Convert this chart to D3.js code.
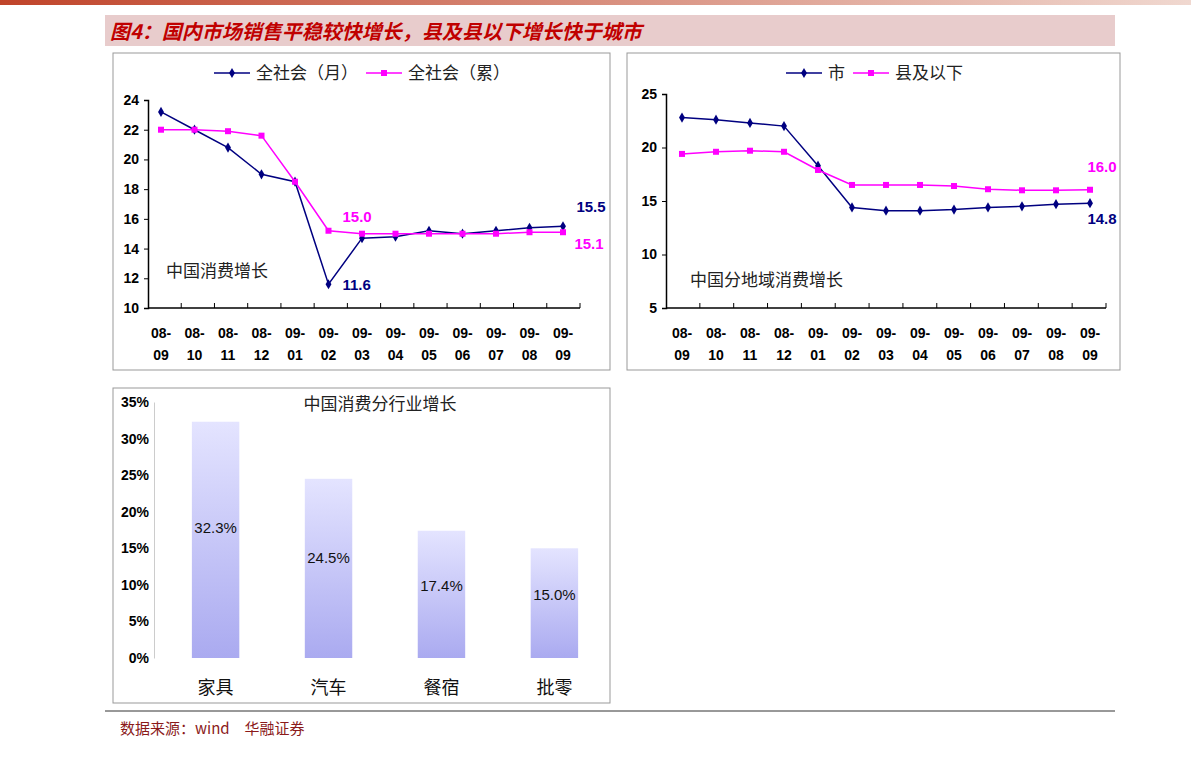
<!DOCTYPE html><html><head><meta charset="utf-8"><script src="https://cdn.jsdelivr.net/npm/d3@7"></script>
<style>body{margin:0;background:#fff}text{font-family:"Liberation Sans",Arial,sans-serif}.cjk{font-family:"Noto Sans CJK SC",sans-serif}</style></head><body>
<svg id="s" width="1191" height="758"></svg>
<script>
const months=["08-09","08-10","08-11","08-12","09-01","09-02","09-03","09-04","09-05","09-06","09-07","09-08","09-09"];
const natMonthly=[23.2,22.0,20.8,19.0,18.5,11.6,14.7,14.8,15.2,15.0,15.2,15.4,15.5];
const natCum=[22.0,22.0,21.9,21.6,18.5,15.2,15.0,15.0,15.0,15.0,15.0,15.1,15.1];
const city=[22.8,22.6,22.3,22.0,18.3,14.4,14.1,14.1,14.2,14.4,14.5,14.7,14.8];
const county=[19.4,19.6,19.7,19.6,17.9,16.5,16.5,16.5,16.4,16.1,16.0,16.0,16.05];
const sectors=["家具","汽车","餐宿","批零"];
const sectorVals=[32.3,24.5,17.4,15.0];
const svg=d3.select("#s");
const NAVY="#000080",MAG="#ff00ff";
const defs=svg.append("defs");
const tg=defs.append("linearGradient").attr("id","tg");
tg.append("stop").attr("offset","0").attr("stop-color","#c0442a");tg.append("stop").attr("offset","1").attr("stop-color","#f0d8d0");
svg.append("rect").attr("x",0).attr("y",0).attr("width",1191).attr("height",5).attr("fill","url(#tg)");
svg.append("rect").attr("x",105).attr("y",15).attr("width",1010).attr("height",31).attr("fill","#e8cccc");
svg.append("text").attr("class","cjk").attr("x",110).attr("y",39).attr("font-size",20).attr("font-style","italic").attr("font-weight","bold").attr("fill","#c00000").text("图4：国内市场销售平稳较快增长，县及县以下增长快于城市");
function panel(x,y,w,h){svg.append("rect").attr("x",x).attr("y",y).attr("width",w).attr("height",h).attr("fill","#fff").attr("stroke","#999");}
panel(113,53,497,317);panel(627,53,493,317);panel(113,388,497,315);
function lineChart(o){
 const x=d3.scalePoint().domain(months).range([o.x0,o.x1]);
 const xb=d3.scaleBand().domain(months).range([o.ax0,o.ax1]);
 const y=d3.scaleLinear().domain(o.dom).range([o.y1,o.y0]);
 const g=svg.append("g");
 g.append("g").attr("transform",`translate(${o.ax0},0)`).call(d3.axisLeft(y).tickValues(o.ticks).tickSize(4).tickFormat(d3.format("d")))
  .call(a=>{a.select(".domain").attr("stroke","#000").attr("stroke-width",1.5);a.selectAll("text").attr("font-size",14).attr("font-weight","bold").attr("dx",-2);});
 const xa=g.append("g").attr("transform",`translate(0,${o.y1})`);
 xa.append("line").attr("x1",o.ax0).attr("x2",o.ax1).attr("stroke","#000").attr("stroke-width",1.5);
 months.forEach((m,i)=>{const xx=o.ax0+xb.bandwidth()*(i+1);xa.append("line").attr("x1",xx).attr("x2",xx).attr("y1",0).attr("y2",-5).attr("stroke","#000");});
 months.forEach(m=>{const p=m.split("-");xa.append("text").attr("x",x(m)).attr("y",30).attr("text-anchor","middle").attr("font-size",14).attr("font-weight","bold").text(p[0]+"-");xa.append("text").attr("x",x(m)).attr("y",52).attr("text-anchor","middle").attr("font-size",14).attr("font-weight","bold").text(p[1]);});
 o.series.forEach(s=>{
  g.append("path").datum(s.v).attr("fill","none").attr("stroke",s.c).attr("stroke-width",1.5).attr("d",d3.line().x((d,i)=>x(months[i])).y(d=>y(d)));
  s.v.forEach((d,i)=>{if(s.sq)g.append("rect").attr("x",x(months[i])-3).attr("y",y(d)-3).attr("width",6).attr("height",6).attr("fill",s.c);else g.append("path").attr("d",d3.symbol(d3.symbolDiamond,30)()).attr("transform",`translate(${x(months[i])},${y(d)})`).attr("fill",s.c);});
 });
 o.labels.forEach(l=>g.append("text").attr("x",l.dx+x(months[l.i])).attr("y",y(l.v)+l.dy).attr("fill",l.c).attr("font-size",15).attr("font-weight","bold").attr("text-anchor",l.a||"start").text(l.t));
 g.append("text").attr("class","cjk").attr("x",o.capx).attr("y",o.capy).attr("font-size",17).attr("fill","#222").text(o.cap);
 let lx=o.legx;
 o.series.forEach(s=>{g.append("line").attr("x1",lx).attr("x2",lx+36).attr("y1",73).attr("y2",73).attr("stroke",s.c).attr("stroke-width",1.5);
  if(s.sq)g.append("rect").attr("x",lx+15).attr("y",70).attr("width",6).attr("height",6).attr("fill",s.c);else g.append("path").attr("d",d3.symbol(d3.symbolDiamond,30)()).attr("transform",`translate(${lx+18},73)`).attr("fill",s.c);
  const t=g.append("text").attr("class","cjk").attr("x",lx+42).attr("y",79).attr("font-size",17).attr("fill","#222").text(s.n);lx+=42+t.node().getComputedTextLength()+8;});
}
lineChart({x0:161,x1:563,ax0:148,ax1:580,y0:100,y1:308,dom:[10,24],ticks:d3.range(10,25,2),legx:214,capx:166,capy:277,cap:"中国消费增长",
 series:[{n:"全社会（月）",v:natMonthly,c:NAVY},{n:"全社会（累）",v:natCum,c:MAG,sq:true}],
 labels:[{i:5,v:11.6,t:"11.6",c:NAVY,dx:14,dy:6},{i:5,v:15.2,t:"15.0",c:MAG,dx:14,dy:-9},{i:12,v:15.5,t:"15.5",c:NAVY,dx:28,dy:-14,a:"middle"},{i:12,v:15.1,t:"15.1",c:MAG,dx:26,dy:17,a:"middle"}]});
lineChart({x0:682,x1:1090,ax0:666,ax1:1106,y0:94,y1:308,dom:[5,25],ticks:[5,10,15,20,25],legx:786,capx:690,capy:286,cap:"中国分地域消费增长",
 series:[{n:"市",v:city,c:NAVY},{n:"县及以下",v:county,c:MAG,sq:true}],
 labels:[{i:12,v:16.05,t:"16.0",c:MAG,dx:12,dy:-18,a:"middle"},{i:12,v:14.8,t:"14.8",c:NAVY,dx:12,dy:21,a:"middle"}]});
const bx=d3.scaleBand().domain(sectors).range([158,612]).paddingInner(0.58).paddingOuter(0.3);
const by=d3.scaleLinear().domain([0,35]).range([658,402]);
const bg=defs.append("linearGradient").attr("id","bg").attr("x1",0).attr("x2",0).attr("y1",0).attr("y2",1);
bg.append("stop").attr("offset","0").attr("stop-color","#e4e4ff");bg.append("stop").attr("offset","1").attr("stop-color","#aaaaf0");
const g3=svg.append("g");
g3.append("g").attr("transform","translate(154,0)").call(d3.axisLeft(by).tickValues(d3.range(0,36,5)).tickSize(0).tickFormat(d=>d+"%"))
 .call(a=>{a.select(".domain").attr("stroke","#ccc");a.selectAll("text").attr("font-size",14).attr("font-weight","bold").attr("dx",-2);});
g3.selectAll(".b").data(sectorVals).join("rect").attr("x",(d,i)=>bx(sectors[i])).attr("width",bx.bandwidth()).attr("y",d=>by(d)).attr("height",d=>658-by(d)).attr("fill","url(#bg)");
g3.selectAll(".bl").data(sectorVals).join("text").attr("x",(d,i)=>bx(sectors[i])+bx.bandwidth()/2).attr("y",d=>by(d)+(658-by(d))*0.47).attr("text-anchor","middle").attr("font-size",15).attr("fill","#111").text(d=>d.toFixed(1)+"%");
sectors.forEach(s=>g3.append("text").attr("class","cjk").attr("x",bx(s)+bx.bandwidth()/2).attr("y",694).attr("text-anchor","middle").attr("font-size",18).attr("fill","#111").text(s));
g3.append("text").attr("class","cjk").attr("x",380).attr("y",410).attr("text-anchor","middle").attr("font-size",17).attr("fill","#222").text("中国消费分行业增长");
svg.append("line").attr("x1",105).attr("x2",1115).attr("y1",711).attr("y2",711).attr("stroke","#333");
svg.append("text").attr("class","cjk").attr("x",120).attr("y",734).attr("font-size",15).attr("fill","#8b1a1a").text("数据来源：wind　华融证券");
</script></body></html>
